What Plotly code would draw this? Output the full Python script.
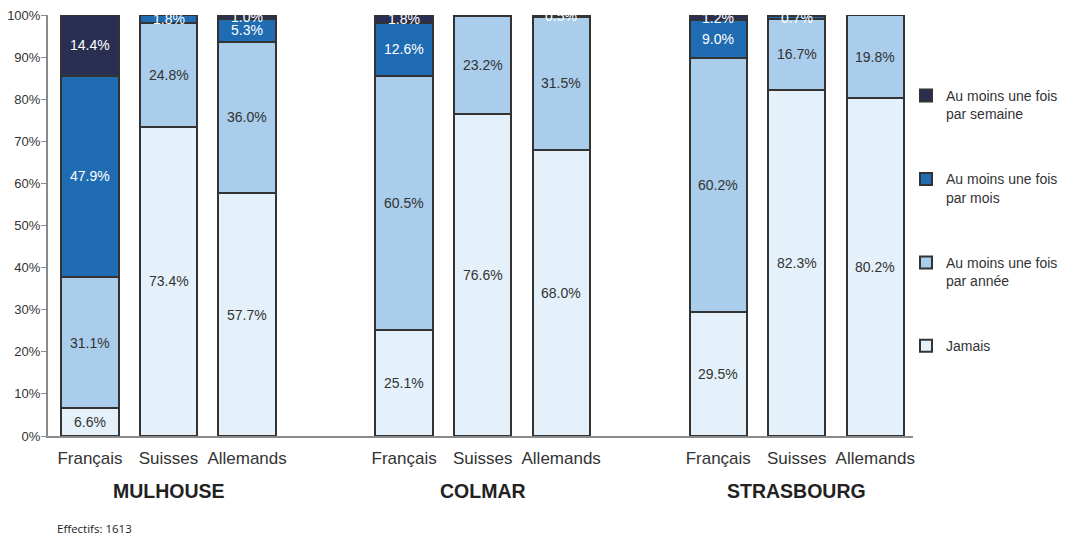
import plotly.graph_objects as go

# Bar slots along the x axis (gaps at 3 and 7 separate the cities)
cities = ["MULHOUSE", "COLMAR", "STRASBOURG"]
groups = ["Français", "Suisses", "Allemands"]
slots = [0, 1, 2, 4, 5, 6, 8, 9, 10]
city_centers = [1, 5, 9]
tick_labels = groups * 3

# Shares (%) per bar, bottom to top of each stack
jamais = [6.6, 73.4, 57.7, 25.1, 76.6, 68.0, 29.5, 82.3, 80.2]
annee = [31.1, 24.8, 36.0, 60.5, 23.2, 31.5, 60.2, 16.7, 19.8]
mois = [47.9, 1.8, 5.3, 12.6, 0.0, 0.0, 9.0, 0.7, 0.0]
semaine = [14.4, 0.0, 1.0, 1.8, 0.0, 0.5, 1.2, 0.0, 0.0]

series = [
    ("Jamais", jamais, "#e5f1fa", "#333333"),
    ("Au moins une fois<br>par année", annee, "#a9cdeb", "#333333"),
    ("Au moins une fois<br>par mois", mois, "#1f6cb2", "#ffffff"),
    ("Au moins une fois<br>par semaine", semaine, "#2a2f52", "#ffffff"),
]

FONT = "Liberation Sans, Arial, sans-serif"

W, H = 1070, 537
ML, MR, MT, MB = 48, 157, 15, 101
PW, PH = W - ML - MR, H - MT - MB

fig = go.Figure()
annotations = []
base = [0.0] * len(slots)
for i, (name, vals, color, txt) in enumerate(series):
    fig.add_trace(go.Bar(
        x=slots, y=vals, name=name, width=0.73,
        marker=dict(color=color, line=dict(color="#333333", width=2)),
        legendgroup=str(i), legendrank=100 - i, hoverinfo="skip",
    ))
    # value label centred in each non-empty segment
    for x, b, v in zip(slots, base, vals):
        if v > 0:
            annotations.append(dict(
                x=x, y=b + v / 2, text=f"{v:.1f}%", showarrow=False,
                xref="x", yref="y", font=dict(family=FONT, size=14, color=txt),
            ))
    base = [b + v for b, v in zip(base, vals)]

# City names under each group of bars
for city, center in zip(cities, city_centers):
    annotations.append(dict(
        x=center, y=-(491 - (H - MB)) / PH, xref="x", yref="paper",
        text=f"<b>{city}</b>", showarrow=False, yanchor="middle",
        font=dict(family=FONT, size=19.5, color="#222222"),
    ))

# Sample size note
annotations.append(dict(
    x=(55 - ML) / PW, y=-(528 - (H - MB)) / PH, xref="paper", yref="paper",
    text="Effectifs: 1613", showarrow=False, xanchor="left", yanchor="middle",
    font=dict(family="Open Sans, sans-serif", size=11.5, color="#222222"),
))

fig.update_layout(
    barmode="stack",
    width=W, height=H,
    margin=dict(l=ML, r=MR, t=MT, b=MB, autoexpand=False),
    plot_bgcolor="white", paper_bgcolor="white",
    font=dict(family=FONT, size=13, color="#333333"),
    showlegend=True,
    legend=dict(
        x=(906 - ML) / PW, y=1 - (80 - MT) / PH, xanchor="left", yanchor="top",
        traceorder="grouped", tracegroupgap=44, valign="top",
        bgcolor="rgba(0,0,0,0)",
        font=dict(family=FONT, size=14, color="#333333"),
        itemwidth=30,
    ),
    xaxis=dict(
        range=[-0.535, 10.48], tickmode="array", tickvals=slots, ticktext=tick_labels,
        showline=True, linecolor="#8a8a8a", linewidth=2, ticks="", showgrid=False,
        zeroline=False, tickangle=0, automargin=False, ticklabelstandoff=6,
        tickfont=dict(family=FONT, size=17, color="#333333"),
    ),
    yaxis=dict(
        range=[0, 100], tickvals=list(range(0, 101, 10)),
        ticktext=[f"{v}%" for v in range(0, 101, 10)],
        showline=True, linecolor="#8a8a8a", linewidth=2, ticks="outside",
        tickcolor="#8a8a8a", ticklen=5, showgrid=False, zeroline=False,
        automargin=False, ticklabelstandoff=-2,
        tickfont=dict(family=FONT, size=13, color="#333333"),
    ),
    annotations=annotations,
)

fig.write_html("out.html")
